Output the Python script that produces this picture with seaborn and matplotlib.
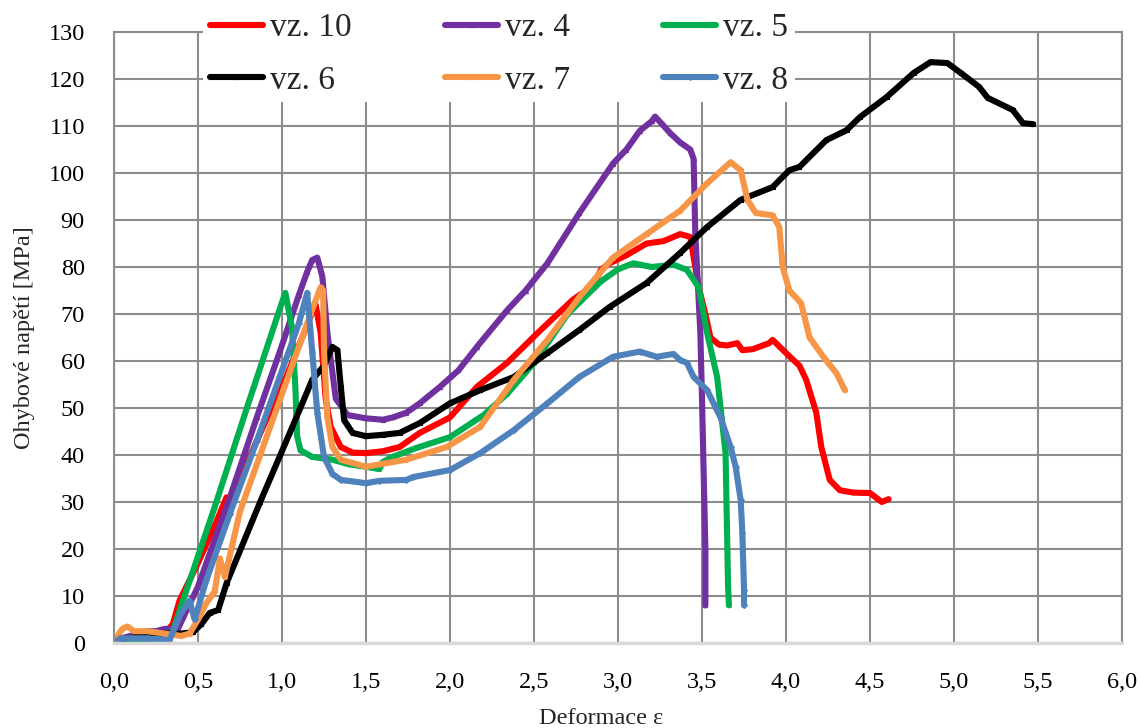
import matplotlib
matplotlib.use("Agg")
import matplotlib.pyplot as plt
import seaborn as sns

# data (strain, bending stress in MPa)
labels = ["vz. 10", "vz. 4", "vz. 5", "vz. 6", "vz. 7", "vz. 8"]
colors = ["#FF0000", "#7030A0", "#00B050", "#000000", "#F79646", "#4F81BD"]
markers = ["+", "^", "x", "s", "o", "D"]

vz10_x = [0, 0.05, 0.1, 0.15, 0.2, 0.25, 0.3, 0.35, 0.39, 0.5, 0.6, 0.67, 0.69, 0.75, 0.9, 1.03,
          1.12, 1.17, 1.2, 1.23, 1.26, 1.29, 1.35, 1.42, 1.5, 1.6, 1.7, 1.82, 2.0, 2.16, 2.34,
          2.54, 2.73, 2.85, 2.9, 2.95, 3.05, 3.17, 3.27, 3.37, 3.43, 3.48, 3.52, 3.55, 3.6,
          3.65, 3.71, 3.74, 3.8, 3.9, 3.92, 4.02, 4.08, 4.12, 4.18, 4.21, 4.26, 4.32, 4.4,
          4.5, 4.57, 4.61]
vz10_y = [0, 1, 1.5, 1, 2, 2.5, 2, 4, 9, 17, 25, 31, 29, 35, 47, 57,
          65, 69.5, 72, 66, 52, 46, 41.7, 40.5, 40.4, 40.8, 41.7, 44.7, 48, 54.5, 59.6,
          66.6, 73, 76, 79.5, 80.8, 82.5, 85, 85.5, 87, 86.4, 75.7, 70, 65, 63.5,
          63.3, 63.8, 62.3, 62.5, 63.8, 64.5, 61, 59, 56, 49, 41.7, 34.7, 32.5, 32,
          31.9, 30, 30.6]

vz4_x = [0, 0.05, 0.1, 0.15, 0.2, 0.25, 0.3, 0.38, 0.5, 0.69, 0.85, 0.99, 1.1, 1.15, 1.18,
         1.21, 1.24, 1.27, 1.32, 1.39, 1.5, 1.6, 1.66, 1.74, 1.82, 1.94, 2.05, 2.16, 2.34,
         2.45, 2.58, 2.77, 2.97, 3.05, 3.13, 3.2, 3.22, 3.26, 3.31, 3.37, 3.43, 3.45, 3.46,
         3.49, 3.5, 3.52, 3.52]
vz4_y = [0, 1, 1.5, 2, 2.5, 2.5, 3, 3, 12, 31, 48, 62.3, 74, 79, 81.5,
         82, 78, 66, 52, 48.5, 47.8, 47.5, 48, 49, 51, 54.5, 58, 63, 70.8,
         75, 80.8, 91.5, 102, 105, 109, 111, 112, 110.5, 108.5, 106.5, 105, 103, 87,
         66, 51.7, 20, 8]

vz5_x = [0, 0.05, 0.1, 0.15, 0.2, 0.25, 0.3, 0.35, 0.42, 0.6, 0.8, 1.0, 1.02, 1.06, 1.08,
         1.09, 1.11, 1.18, 1.3, 1.4, 1.5, 1.58, 1.6, 1.65, 1.8, 2.0, 2.2, 2.34, 2.5, 2.7,
         2.9, 3.0, 3.09, 3.2, 3.33, 3.41, 3.48, 3.53, 3.59, 3.64, 3.655, 3.66]
vz5_y = [0, 0.5, 1, 0.5, 0.3, 0.5, 1, 2.5, 10, 29, 51, 72.5, 74.5, 67, 54,
         44, 41, 39.6, 39, 38, 37.5, 37, 38.5, 39.5, 41.5, 43.8, 48.5, 53, 59.6, 70,
         77, 79.5, 80.8, 80, 80.5, 79.4, 75.7, 66, 56.6, 40.4, 12, 8]

vz6_x = [0, 0.05, 0.1, 0.2, 0.3, 0.4, 0.47, 0.52, 0.57, 0.62, 0.67, 0.87, 1.05, 1.18, 1.25,
         1.3, 1.33, 1.35, 1.37, 1.42, 1.5, 1.6, 1.7, 1.82, 2.0, 2.18, 2.38, 2.58, 2.77,
         2.95, 3.17, 3.37, 3.53, 3.73, 3.92, 4.02, 4.08, 4.24, 4.36, 4.44, 4.6, 4.76, 4.86,
         4.96, 5.04, 5.15, 5.2, 5.35, 5.41, 5.47]
vz6_y = [0, 1, 1, 2, 2, 2, 2.3, 4, 6.4, 7, 12.7, 30, 45, 56, 59,
         63, 62.3, 54.5, 47.4, 44.7, 44, 44.3, 44.7, 46.8, 51, 53.8, 56.6, 61.7, 66.6,
         71.5, 76.6, 83, 88.5, 94.3, 97, 100.6, 101.3, 107, 109.1, 111.9, 116.2, 121.3, 123.6,
         123.4, 121.3, 118.3, 116, 113.4, 110.6, 110.4]

vz7_x = [0, 0.03, 0.05, 0.08, 0.12, 0.2, 0.3, 0.4, 0.45, 0.5, 0.55, 0.6, 0.63, 0.66, 0.75,
         0.9, 1.03, 1.17, 1.23, 1.245, 1.25, 1.27, 1.3, 1.35, 1.5, 1.74, 1.98, 2.18, 2.38,
         2.58, 2.77, 2.97, 3.17, 3.37, 3.53, 3.67, 3.73, 3.77, 3.82, 3.92, 3.96, 3.98, 4.02,
         4.09, 4.14, 4.22, 4.3, 4.35]
vz7_y = [0, 2, 3, 3.5, 2.5, 2.5, 2, 1.5, 2, 5, 8.5, 11, 18, 14, 28,
         43, 56, 70, 75.7, 75, 62, 48, 41.7, 39, 37.5, 39, 41.7, 46, 56,
         64.5, 73.6, 82, 87, 92, 97.8, 102.3, 100.6, 94.3, 91.5, 91, 88.5, 80, 75,
         72.3, 65, 61, 57.4, 53.8]

vz8_x = [0, 0.04, 0.1, 0.2, 0.33, 0.4, 0.45, 0.48, 0.55, 0.69, 0.85, 1.0, 1.1, 1.15, 1.18,
         1.21, 1.25, 1.3, 1.35, 1.5, 1.58, 1.74, 1.78, 2.0, 2.18, 2.38, 2.58, 2.77, 2.97,
         3.13, 3.23, 3.33, 3.37, 3.41, 3.45, 3.53, 3.61, 3.67, 3.7, 3.73, 3.74, 3.75, 3.75]
vz8_y = [0, 1, 1, 1, 0.6, 6.4, 9, 5, 13.4, 27.5, 43, 58, 68, 74.5, 62,
         49, 39.6, 36, 34.7, 34, 34.5, 34.7, 35.3, 36.8, 40.4, 45.3, 51, 56.6, 60.9,
         62, 60.9, 61.5, 60.2, 59.6, 56.6, 53.8, 48, 41.7, 37.5, 30.4, 23.4, 11.3, 8]

x_ticks = [0, 0.5, 1, 1.5, 2, 2.5, 3, 3.5, 4, 4.5, 5, 5.5, 6]
x_tick_labels = ["0,0", "0,5", "1,0", "1,5", "2,0", "2,5", "3,0", "3,5", "4,0", "4,5",
                 "5,0", "5,5", "6,0"]
y_ticks = list(range(0, 131, 10))

sns.set_style("whitegrid", {"grid.color": "#8c8c8c", "axes.edgecolor": "#8c8c8c"})
plt.rcParams["font.family"] = ["Liberation Serif", "DejaVu Serif"]

fig = plt.figure(figsize=(11.41, 7.28), dpi=100)
ax = fig.add_axes([0.0999, 0.1168, 0.8835, 0.8392])

xs = [vz10_x, vz4_x, vz5_x, vz6_x, vz7_x, vz8_x]
ys = [vz10_y, vz4_y, vz5_y, vz6_y, vz7_y, vz8_y]
for lab, col, mk, x, y in zip(labels, colors, markers, xs, ys):
    sns.lineplot(x=x, y=y, sort=False, estimator=None, color=col, marker=mk,
                 markersize=3, markeredgewidth=0.8, markeredgecolor=col,
                 linewidth=4.4, solid_joinstyle="round", solid_capstyle="round",
                 label=lab, ax=ax)

ax.set_xlim(0, 6)
ax.set_ylim(0, 130)
ax.set_xticks(x_ticks)
ax.set_xticklabels(x_tick_labels)
ax.set_yticks(y_ticks)
ax.grid(True, color="#8c8c8c", linewidth=1.5)
ax.tick_params(axis="both", length=0, pad=21, labelsize=17.5, labelcolor="black")

for side in ["top", "right", "left"]:
    ax.spines[side].set_color("#8c8c8c")
    ax.spines[side].set_linewidth(1.5)
ax.spines["bottom"].set_color("#d9d9d9")
ax.spines["bottom"].set_linewidth(2.5)

ax.set_xlabel("Deformace ε", fontsize=17.5)
ax.set_ylabel("Ohybové napětí [MPa]", fontsize=17.5)
ax.xaxis.set_label_coords(0.483, -0.106)
ax.yaxis.set_label_coords(-0.078, 0.5)

handles, labs = ax.get_legend_handles_labels()
order = [0, 3, 1, 4, 2, 5]
leg = ax.legend([handles[i] for i in order], [labs[i] for i in order], ncol=3,
                loc="upper left", bbox_to_anchor=(203 / 1141, 1.0 - 6 / 728),
                bbox_transform=fig.transFigure, fontsize=24, frameon=True,
                framealpha=1, facecolor="white", edgecolor="none", fancybox=False,
                handlelength=1.6, handletextpad=0.2, columnspacing=2.8,
                labelspacing=0.66, borderpad=0.2, borderaxespad=0)
for line in leg.get_lines():
    line.set_linewidth(4.4)

fig.savefig("out.png", dpi=100)
